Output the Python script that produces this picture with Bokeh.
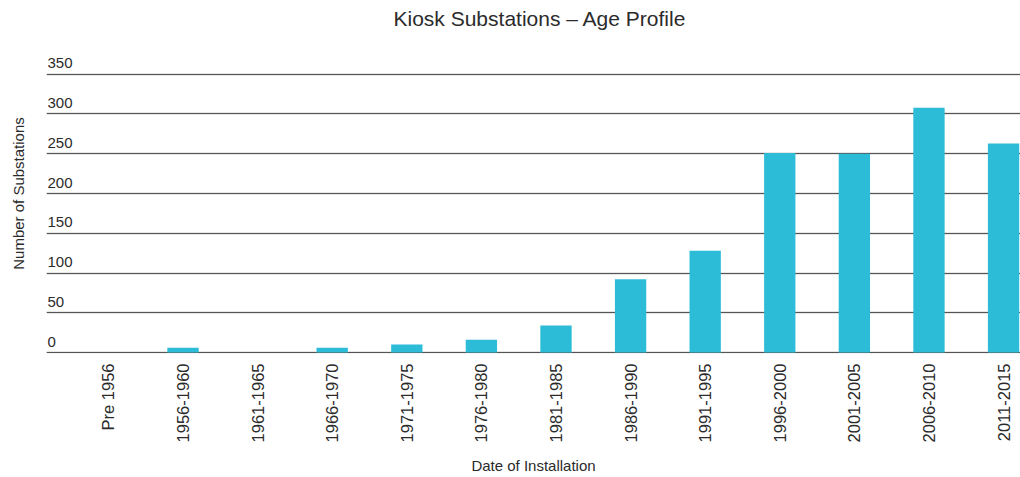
from bokeh.plotting import figure
from bokeh.models import Range1d, FixedTicker, Grid, ColumnDataSource
from bokeh.core.properties import value
from bokeh.embed import file_html
from bokeh.resources import INLINE

categories = ["Pre 1956", "1956-1960", "1961-1965", "1966-1970", "1971-1975",
              "1976-1980", "1981-1985", "1986-1990", "1991-1995", "1996-2000",
              "2001-2005", "2006-2010", "2011-2015"]
counts = [0, 6, 0, 6, 10, 16, 34, 92, 128, 251, 250, 308, 263]
y_ticks = [0, 50, 100, 150, 200, 250, 300, 350]
y_tick_labels = [str(t) for t in y_ticks]

FONT = "Liberation Sans"
TEXT = "#2b2b2b"
BAR = "#2dbcd8"

positions = list(range(len(categories)))
x_start, x_end = -0.83, 12.227

p = figure(width=1020, height=477, output_backend="svg", toolbar_location=None,
           x_range=Range1d(x_start, x_end), y_range=Range1d(-1.25, 401.25),
           min_border_left=46, min_border_right=0, min_border_top=33,
           min_border_bottom=122, outline_line_color=None,
           title="Kiosk Substations \u2013 Age Profile")

p.title.align = "left"
p.title.offset = 347
p.title.text_font = FONT
p.title.text_font_size = "21px"
p.title.text_font_style = "normal"
p.title.text_color = TEXT
p.title.standoff = 8

# grids
p.xgrid.visible = False
p.ygrid.visible = False
light = Grid(dimension=1, ticker=FixedTicker(ticks=y_ticks),
             grid_line_color="#cfcfcf", grid_line_width=2.2)
dark = Grid(dimension=1, ticker=FixedTicker(ticks=y_ticks),
            grid_line_color="#555555", grid_line_width=1)
p.add_layout(light)
p.add_layout(dark)

src = ColumnDataSource(dict(x=positions, top=counts, cat=categories))
p.vbar(x="x", top="top", bottom=0, width=0.42, source=src,
       fill_color=BAR, line_color=None)

# y tick labels sitting above gridlines
lab = ColumnDataSource(dict(x=[x_start] * len(y_ticks), y=y_ticks, t=y_tick_labels))
p.text(x="x", y="y", text="t", source=lab, x_offset=1, y_offset=-6,
       text_baseline="bottom", text_align="left",
       text_font=value(FONT), text_font_size="15px", text_color=TEXT)

# x axis
xa = p.xaxis[0]
xa.ticker = FixedTicker(ticks=positions)
xa.major_label_overrides = {i: c for i, c in zip(positions, categories)}
xa.major_label_orientation = 1.5707963267948966
xa.axis_line_color = None
xa.major_tick_line_color = None
xa.minor_tick_line_color = None
xa.major_tick_out = 0
xa.major_tick_in = 0
xa.major_label_standoff = 10
xa.major_label_text_font = FONT
xa.major_label_text_font_size = "16.5px"
xa.major_label_text_color = TEXT
xa.axis_label = "Date of Installation"
xa.axis_label_text_font = FONT
xa.axis_label_text_font_size = "15px"
xa.axis_label_text_font_style = "normal"
xa.axis_label_text_color = TEXT
xa.axis_label_standoff = 12

# y axis (title only)
ya = p.yaxis[0]
ya.ticker = FixedTicker(ticks=[])
ya.axis_line_color = None
ya.major_tick_line_color = None
ya.minor_tick_line_color = None
ya.major_tick_out = 0
ya.major_tick_in = 0
ya.major_label_text_font_size = "0px"
ya.major_label_standoff = 0
ya.axis_label = "Number of Substations"
ya.axis_label_text_font = FONT
ya.axis_label_text_font_size = "15px"
ya.axis_label_text_font_style = "normal"
ya.axis_label_text_color = TEXT
ya.axis_label_standoff = 20

open("out.html", "w").write(file_html(p, INLINE))
